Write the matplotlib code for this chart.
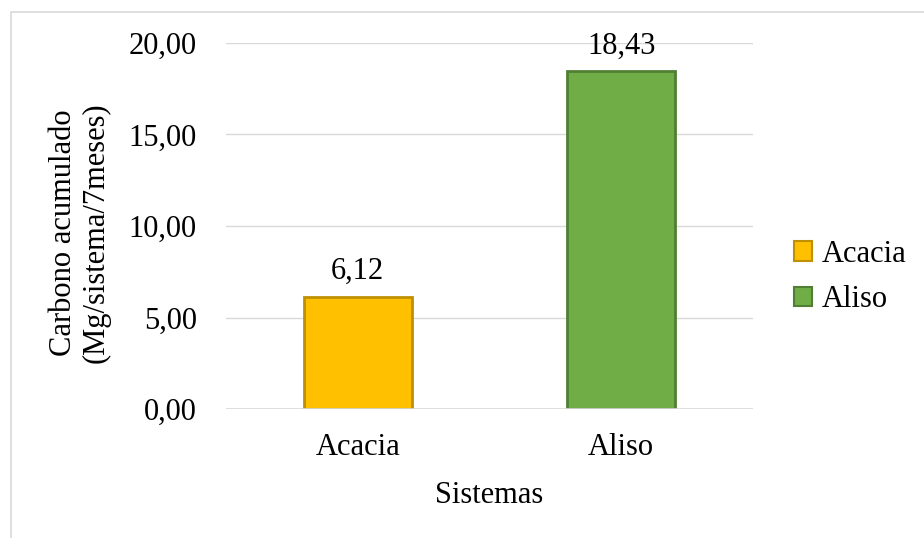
import matplotlib.pyplot as plt
from matplotlib.patches import Patch, Rectangle

# datos
sistemas = ['Acacia', 'Aliso']
carbono = [6.12, 18.43]
colores = ['#FFC000', '#70AD47']
bordes = ['#BF9000', '#507E32']
yticks = [0, 5, 10, 15, 20]


def coma(v):
    return f"{v:.2f}".replace('.', ',')


plt.rcParams['font.family'] = ['Liberation Serif', 'DejaVu Serif']
fs = 22

fig = plt.figure(figsize=(9.24, 5.38), dpi=100)
W, H = 924, 538

# borde del grafico (solo se ve arriba e izquierda)
fig.patches.append(Rectangle((11 / W, -0.1), 1.2, 1 - 11.5 / H + 0.1,
                             transform=fig.transFigure, fill=False,
                             edgecolor='#D9D9D9', linewidth=1.2))

ax = fig.add_axes([226 / W, 1 - 409.3 / H, 527 / W, (409.3 - 42.7) / H])
x = range(len(sistemas))
ax.bar(x, carbono, width=0.41, color=colores, edgecolor=bordes,
       linewidth=2.0, zorder=3)

for xi, v in zip(x, carbono):
    ax.annotate(coma(v), (xi, v), xytext=(0, 13), textcoords='offset points',
                ha='center', va='baseline', fontsize=fs)

ax.set_xlim(-0.5, 1.5)
ax.set_ylim(0, 20)
ax.set_yticks(yticks)
ax.set_yticklabels([coma(v) for v in yticks], fontsize=fs)
ax.set_xticks(list(x))
ax.set_xticklabels(sistemas, fontsize=fs)
ax.tick_params(axis='y', length=0, pad=21)
ax.tick_params(axis='x', length=0, pad=17)
ax.grid(axis='y', color='#D9D9D9', linewidth=1.0, zorder=0)
ax.axhline(0, color='#D9D9D9', linewidth=1.2, zorder=4)
ax.set_axisbelow(True)
for s in ax.spines.values():
    s.set_visible(False)

fig.text(489.5 / W, 1 - 503 / H, 'Sistemas', ha='center', va='baseline',
         fontsize=fs)
fig.text(80 / W, 1 - 233 / H, 'Carbono acumulado\n(Mg/sistema/7meses)',
         rotation=90, ha='center', va='center', multialignment='center',
         fontsize=fs, linespacing=1.15)

handles = [Patch(facecolor=c, edgecolor=e, linewidth=1.5)
           for c, e in zip(colores, bordes)]
fig.legend(handles, sistemas, loc='center left',
           bbox_to_anchor=(794 / W, 1 - 277 / H), frameon=False,
           fontsize=fs, handlelength=0.6, handleheight=0.6,
           handletextpad=0.3, labelspacing=0.55, borderpad=0,
           borderaxespad=0)

fig.savefig('out.png', dpi=100)
